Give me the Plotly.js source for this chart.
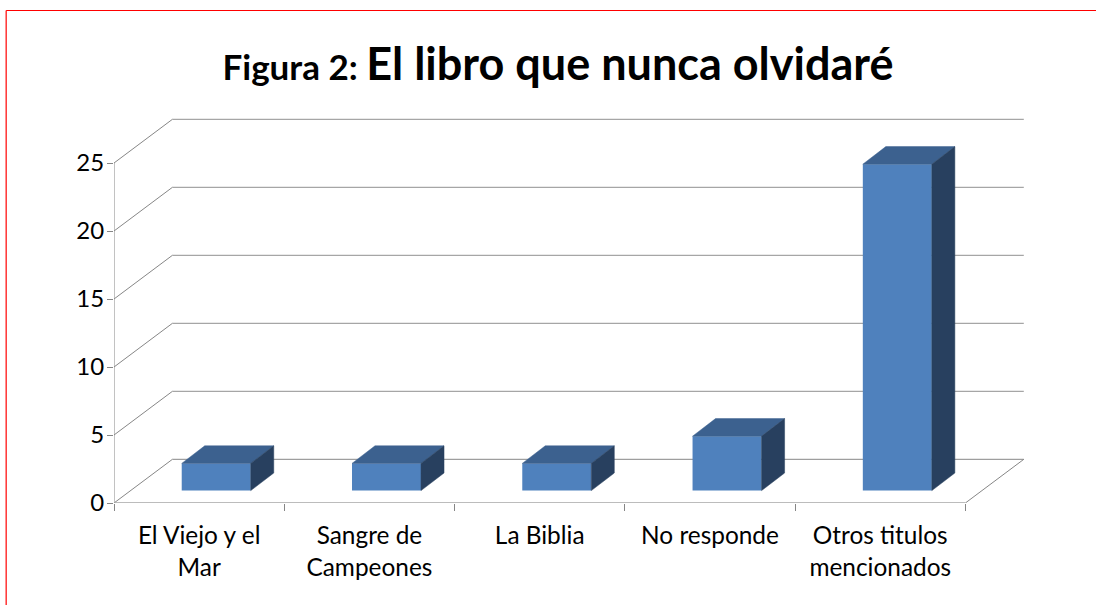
<!DOCTYPE html>
<html><head><meta charset="utf-8">
<script src="https://cdn.plot.ly/plotly-3.0.1.min.js"></script>
<style>html,body{margin:0;padding:0;background:#fff;overflow:hidden}#c{width:1096px;height:605px}</style>
</head><body><div id="c"></div>
<script>
const categories = ["El Viejo y el<br>Mar","Sangre de<br>Campeones","La Biblia","No responde","Otros titulos<br>mencionados"];
const values = [2,2,2,4,24];
const yTicks = [0,5,10,15,20,25];

// Drawing geometry, px
const W=1096,H=605,L=114.3,B=503,PX_X=170.22,PX_Y=13.6,T=108,R=1032;
const wallDx=58.4/PX_X, wallDy=43.7/PX_Y;
const barW=69/PX_X, barOff=(216.5-114.3-85.11)/PX_X, barBase=12.4/PX_Y;
const sideDx=23/PX_X, sideDy=17.6/PX_Y;
const GRID='#868686', SOFT='#a6a6a6';

const n=categories.length;
const centers=categories.map((_,i)=>i+0.5);
const xEnd=(R-L)/PX_X, yEnd=(B-T)/PX_Y;

const wallShapes=yTicks.map(v=>({type:'line',layer:'below',xref:'x',yref:'y',
  x0:wallDx,x1:n+wallDx,y0:v+wallDy,y1:v+wallDy,
  line:{color:v===0?GRID:SOFT,width:v===0?1:1.2}}));

function paperShape(x0,y0,x1,y1){
  return {type:'line',xref:'paper',yref:'paper',
    x0:(x0-L)/(R-L),x1:(x1-L)/(R-L),
    y0:(B-y0)/(B-T),y1:(B-y1)/(B-T),line:{color:'#ff0000',width:1.2}};
}
const frame=[paperShape(6.5,10.5,1096,10.5),paperShape(6.5,10.5,6.5,605)];

function poly(fn){const xs=[],ys=[];
  values.forEach((v,i)=>{fn(i,v).forEach(p=>{xs.push(p[0]);ys.push(p[1]);});xs.push(null);ys.push(null);});
  return {x:xs,y:ys};}
const left=i=>centers[i]+barOff-barW/2, right=i=>centers[i]+barOff+barW/2;

const topFace=poly((i,v)=>{const t=v+barBase;return [[left(i),t],[right(i),t],[right(i)+sideDx,t+sideDy],[left(i)+sideDx,t+sideDy],[left(i),t]];});
const sideFace=poly((i,v)=>{const t=v+barBase;return [[right(i),barBase],[right(i)+sideDx,barBase+sideDy],[right(i)+sideDx,t+sideDy],[right(i),t],[right(i),barBase]];});

const diagX=[],diagY=[];
yTicks.forEach(v=>{diagX.push(0,wallDx,null);diagY.push(v,v+wallDy,null);});
diagX.push(n,n+wallDx,null);diagY.push(0,wallDy,null);

const line=(x,y,color,width)=>({type:'scatter',mode:'lines',x,y,cliponaxis:false,hoverinfo:'skip',showlegend:false,line:{color,width}});

const data=[
  {type:'bar',x:centers.map(c=>c+barOff),y:values,base:values.map(()=>barBase),width:barW,
   marker:{color:'#4f81bd',line:{width:0}},showlegend:false,hoverinfo:'skip'},
  {type:'scatter',mode:'lines',x:topFace.x,y:topFace.y,fill:'toself',fillcolor:'#3c618f',line:{color:'#3c618f',width:0.5},showlegend:false,hoverinfo:'skip'},
  {type:'scatter',mode:'lines',x:sideFace.x,y:sideFace.y,fill:'toself',fillcolor:'#28405f',line:{color:'#28405f',width:0.5},showlegend:false,hoverinfo:'skip'},
  line(diagX,diagY,GRID,1),
  line([0,0],[0,25],GRID,1),
  line([0,n],[0,0],SOFT,1.5),
  {type:'scatter',mode:'markers',x:[0],y:[0],xaxis:'x2',marker:{opacity:0},showlegend:false,hoverinfo:'skip'}
];

const layout={
  width:W,height:H,autosize:false,paper_bgcolor:'#fff',plot_bgcolor:'rgba(0,0,0,0)',
  margin:{l:L,r:W-R,t:T,b:H-B,pad:0},
  showlegend:false,barmode:'overlay',
  font:{family:'Lato, Carlito, sans-serif',color:'#000',size:24},
  title:{text:'<span style="font-size:35px">Figura 2: </span>El libro que nunca olvidaré',
    font:{family:'Lato, sans-serif',size:45,color:'#000',weight:700},
    x:558/W,xanchor:'center',y:1-64/H,yanchor:'middle',xref:'container',yref:'container'},
  xaxis:{range:[0,xEnd],tickmode:'array',tickvals:centers,ticktext:categories,ticks:'',ticklen:0,
    showgrid:false,zeroline:false,showline:false,ticklabelstandoff:16,tickangle:0,
    tickfont:{size:24.4,family:'Lato, sans-serif'}},
  xaxis2:{overlaying:'x',range:[0,xEnd],side:'bottom',anchor:'y',tickmode:'array',
    tickvals:categories.map((_,i)=>i).concat(n),ticktext:categories.map(()=>'').concat(''),
    ticks:'outside',ticklen:7,tickcolor:GRID,tickwidth:1,showgrid:false,zeroline:false,showline:false},
  yaxis:{range:[0,yEnd],tickmode:'array',tickvals:yTicks,ticktext:yTicks.map(String),
    ticks:'outside',ticklen:6,tickcolor:GRID,tickwidth:1,showgrid:false,zeroline:false,showline:false,
    ticklabelstandoff:-2,tickfont:{size:24,family:'Lato, sans-serif'}},
  shapes:wallShapes.concat(frame)
};
Plotly.newPlot('c',data,layout,{displayModeBar:false,responsive:false,staticPlot:true});
</script></body></html>
